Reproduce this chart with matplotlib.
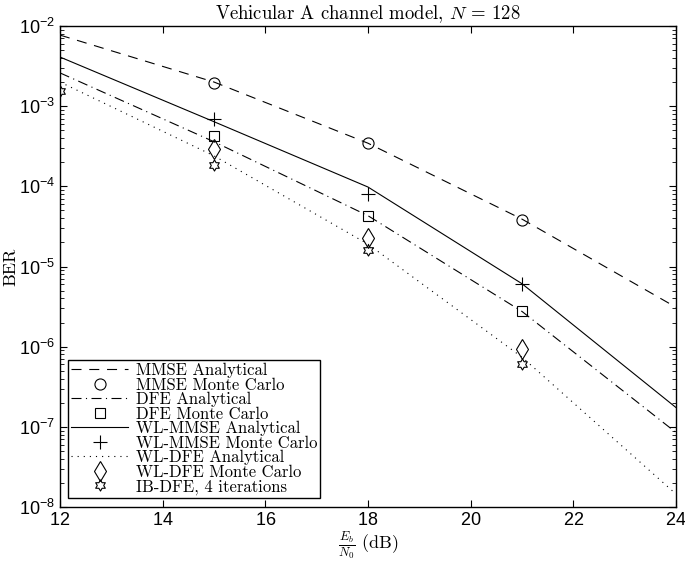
import numpy as np
import matplotlib
matplotlib.use('Agg')
import matplotlib.pyplot as plt
from matplotlib.path import Path
from matplotlib.ticker import LogLocator, NullFormatter

plt.rcParams['font.family'] = ['cmr10', 'DejaVu Serif']
plt.rcParams['mathtext.fontset'] = 'cm'
plt.rcParams['axes.formatter.use_mathtext'] = True
plt.rcParams['axes.unicode_minus'] = False

# Eb/N0 (dB)
snr_ana = [12, 15, 18, 21, 24]
snr_mc = [15, 18, 21]
snr_ib = [12, 15, 18, 21]

# analytical curves
mmse_ana = [7.7e-3, 2.0e-3, 3.45e-4, 3.9e-5, 3.1e-6]
dfe_ana = [2.6e-3, 3.6e-4, 4.3e-5, 2.75e-6, 8.5e-8]
wlmmse_ana = [4.1e-3, 6.4e-4, 9.8e-5, 6.1e-6, 1.74e-7]
wldfe_ana = [2.0e-3, 2.4e-4, 1.9e-5, 7.4e-7, 1.45e-8]

# Monte Carlo points
mmse_mc = [1.95e-3, 3.45e-4, 3.83e-5]
dfe_mc = [4.3e-4, 4.3e-5, 2.75e-6]
wlmmse_mc = [6.9e-4, 8.1e-5, 6.1e-6]
wldfe_mc = [2.95e-4, 2.3e-5, 9.4e-7]
ibdfe = [1.54e-3, 1.83e-4, 1.6e-5, 6.0e-7]

hexagram = Path.unit_regular_star(6, innerCircle=1 / np.sqrt(3))

fig = plt.figure(figsize=(6.85, 5.62), dpi=100)
ax = fig.add_axes([60 / 685, 55 / 562, 616 / 685, 481 / 562])

lw = 0.8
mk = dict(color='k', linestyle='none', markerfacecolor='none', markeredgewidth=0.8)
ax.semilogy(snr_ana, mmse_ana, color='k', lw=lw, linestyle=(0, (9, 7)), label='MMSE Analytical')
ax.semilogy(snr_mc, mmse_mc, marker='o', markersize=8, label='MMSE Monte Carlo', **mk)
ax.semilogy(snr_ana, dfe_ana, color='k', lw=lw, linestyle=(0, (9, 4, 1, 4)), label='DFE Analytical')
ax.semilogy(snr_mc, dfe_mc, marker='s', markersize=7, label='DFE Monte Carlo', **mk)
ax.semilogy(snr_ana, wlmmse_ana, color='k', lw=lw, linestyle='-', label='WL-MMSE Analytical')
ax.semilogy(snr_mc, wlmmse_mc, marker='+', markersize=10, label='WL-MMSE Monte Carlo', **mk)
ax.semilogy(snr_ana, wldfe_ana, color='k', lw=lw, linestyle=(0, (1, 4.5)), label='WL-DFE Analytical')
ax.semilogy(snr_mc, wldfe_mc, marker='d', markersize=10, label='WL-DFE Monte Carlo', **mk)
ax.semilogy(snr_ib, ibdfe, marker=hexagram, markersize=8, label='IB-DFE, 4 iterations', **mk)

ax.set_xlim(12, 24)
ax.set_ylim(1e-8, 1e-2)
ax.set_xticks([12, 14, 16, 18, 20, 22, 24])
ax.yaxis.set_major_locator(LogLocator(base=10, numticks=10))
ax.yaxis.set_minor_locator(LogLocator(base=10, subs=np.arange(2, 10), numticks=100))
ax.yaxis.set_minor_formatter(NullFormatter())
ax.tick_params(which='both', direction='in', top=True, right=True, labelsize=13,
               labelfontfamily='Liberation Sans')
ax.tick_params(which='major', length=5, width=0.8)
ax.tick_params(which='minor', length=3, width=0.6)
for s in ax.spines.values():
    s.set_linewidth(1.0)

ax.set_title(r'Vehicular A channel model, $N$ = 128', fontsize=13.5, pad=5)
ax.set_xlabel(r'$\frac{E_b}{N_0}$ (dB)', fontsize=13, labelpad=0)
ax.set_ylabel('BER', fontsize=13)
ax.yaxis.set_label_coords(-0.068, 0.5)

leg = ax.legend(loc='lower left', bbox_to_anchor=(0.013, 0.019), borderaxespad=0,
                fontsize=12, labelspacing=-0.05, handlelength=3.4, handletextpad=0.45,
                borderpad=0.2, fancybox=False, framealpha=1, edgecolor='k')
leg.get_frame().set_linewidth(1.0)

fig.savefig('out.png', dpi=100)
